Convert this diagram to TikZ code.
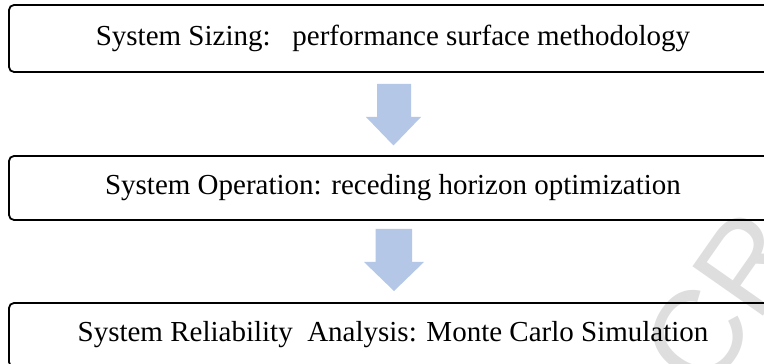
\documentclass[tikz,border=0pt]{standalone}
\usepackage{fontspec}
\setmainfont{Liberation Serif}
\newfontfamily\wmfont{Liberation Sans}
\definecolor{arrowblue}{HTML}{B4C7E7}
\definecolor{wmgray}{HTML}{DEDEDE}
\begin{document}
\begin{tikzpicture}[x=1pt,y=1pt,
  stagebox/.style={draw=black, line width=1.8pt, rounded corners=5pt, minimum width=768pt, inner sep=0pt,
     font=\fontsize{29}{32}\selectfont},
  blockarrow/.style={fill=arrowblue, draw=none}]
\useasboundingbox (0,0) rectangle (764,364);
\clip (0,0) rectangle (764,364);
\fill[white] (0,0) rectangle (764,364);
% watermark
\node[anchor=base west, rotate=55, inner sep=0pt, text=wmgray, font=\wmfont\fontsize{125}{125}\selectfont] (wm) at (706,-35) {CR};
% boxes
\node[stagebox, minimum height=67pt] (sizing) at (393,325.5) {System Sizing:\ \ \ performance surface methodology};
\node[stagebox, minimum height=64pt] (operation) at (393,176) {System Operation: receding horizon optimization};
\node[stagebox, minimum height=64pt] (reliability) at (393,29) {System Reliability\ \ Analysis: Monte Carlo Simulation};
% block arrows
\fill[blockarrow] (377,280) -- (411,280) -- (411,247) -- (421,247) -- (393.5,218.5) -- (366,247) -- (377,247) -- cycle;
\fill[blockarrow] (375.5,135) -- (412,135) -- (412,102) -- (424,102) -- (394,73) -- (364,102) -- (375.5,102) -- cycle;
\end{tikzpicture}
\end{document}
